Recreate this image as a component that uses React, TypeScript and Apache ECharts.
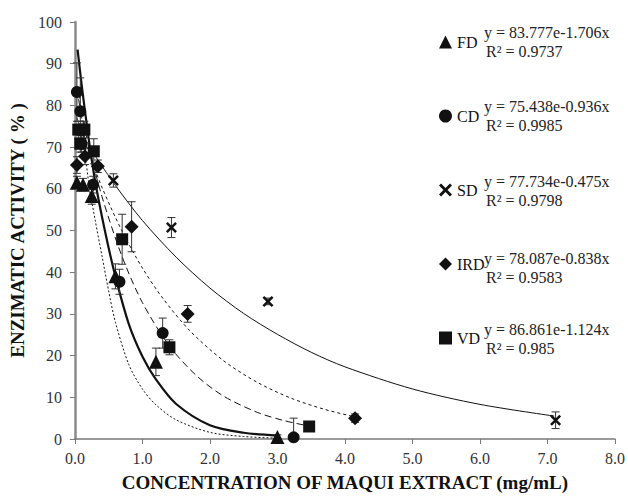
import React, { useEffect, useRef } from "react";
import * as echarts from "echarts";

// ---- measured data (x in mg/mL, y in % activity) ----
const fdPts = [[0.03, 61.5], [0.12, 61], [0.25, 58.3], [0.6, 39], [1.2, 18.5], [3.0, 0.5]];
const fdErr = [1.5, 1.5, 2, 3, 3.3, 0.5];
const cdPts = [[0.03, 83.2], [0.08, 78.6], [0.1, 70.8], [0.27, 61], [0.66, 37.7], [1.3, 25.4], [3.24, 0.4]];
const cdErr = [7, 8, 2, 2, 3, 3.6, 4.6];
const sdPts = [[0.57, 62], [1.43, 50.7], [2.86, 33], [7.12, 4.5]];
const sdErr = [1.6, 2.4, 0.8, 2];
const irdPts = [[0.03, 65.7], [0.15, 67.8], [0.34, 65.4], [0.84, 50.9], [1.67, 30], [4.15, 5]];
const irdErr = [2, 2, 1.5, 6, 2, 1];
const vdPts = [[0.05, 74.2], [0.14, 74.2], [0.08, 70.8], [0.28, 69], [0.7, 47.9], [1.4, 22], [3.47, 3]];
const vdErr = [2, 2, 2, 3, 6, 1.8, 0.8];

// ---- trend curves ----
const thickCurve = [[0.04, 93.4], [0.1, 84.9], [0.2, 72.5], [0.3, 61.8], [0.45, 49.5], [0.6, 39], [0.8, 27.5], [1.0, 19.8], [1.2, 14.3], [1.5, 8.4], [2.0, 3.3], [2.5, 1.5], [3.0, 0.8]];
const dottedCurve = [[0.06, 84], [0.1, 77], [0.2, 62], [0.3, 52.5], [0.4, 44], [0.5, 35.5], [0.6, 28], [0.8, 17.8], [1.0, 12], [1.2, 8.2], [1.5, 4.6], [2.0, 1.6], [2.5, 0.6], [3.0, 0.2]];
const longDashCurve = [[0.05, 81.6], [0.2, 70.6], [0.4, 58.2], [0.7, 43.7], [1.0, 32.7], [1.4, 22.3], [1.8, 15.2], [2.2, 10.3], [2.7, 6.4], [3.1, 4.4], [3.47, 3.1]];
const shortDashCurve = [[0.03, 77], [0.2, 69], [0.4, 60.4], [0.7, 49.8], [1.0, 41], [1.3, 33.8], [1.7, 26], [2.2, 18.8], [2.7, 13.6], [3.2, 9.8], [3.7, 7.1], [4.15, 5.3]];
const thinCurve = [[0.3, 67.9], [0.6, 60.8], [1.0, 52.4], [1.5, 43.6], [2.0, 36.2], [2.5, 30.1], [3.0, 25.1], [3.5, 20.8], [4.0, 17.3], [5.0, 12.0], [6.0, 8.3], [7.1, 5.5]];

const equations = ["y = 83.777e-1.706x", "y = 75.438e-0.936x", "y = 77.734e-0.475x", "y = 78.087e-0.838x", "y = 86.861e-1.124x"];
const r2Texts = ["R² = 0.9737", "R² = 0.9985", "R² = 0.9798", "R² = 0.9583", "R² = 0.985"];
const xTicks = [0, 1, 2, 3, 4, 5, 6, 7, 8];

const X_PATH = "path://M0,1.6 L1.6,0 L5,3.4 L8.4,0 L10,1.6 L6.6,5 L10,8.4 L8.4,10 L5,6.6 L1.6,10 L0,8.4 L3.4,5 Z";
const FONT = "Liberation Serif";

export default function App() {
  const ref = useRef<HTMLDivElement>(null);
  useEffect(() => {
    if (!ref.current) return;
    const chart = echarts.init(ref.current, undefined, { renderer: "svg" });

    const errData = (pts: number[][], errs: number[]) => pts.map((p, i) => [p[0], p[1], errs[i]]);
    const allErr = [
      ...errData(fdPts, fdErr),
      ...errData(cdPts, cdErr),
      ...errData(sdPts, sdErr),
      ...errData(irdPts, irdErr),
      ...errData(vdPts, vdErr),
    ];

    const curve = (data: number[][], width: number, type: any) => ({
      type: "line",
      data,
      smooth: 0.3,
      showSymbol: false,
      silent: true,
      z: 3,
      lineStyle: { color: "#111", width, type },
    });

    const scatter = (name: string, data: number[][], symbol: string, size: number) => ({
      type: "scatter",
      name,
      data,
      symbol,
      symbolSize: size,
      z: 5,
      itemStyle: { color: "#111", opacity: 1 },
    });

    const textEls: any[] = [];
    const rowY = [33, 107, 182, 259, 330];
    rowY.forEach((y, i) => {
      textEls.push({
        type: "text",
        left: 484,
        top: y - 9,
        style: { text: equations[i], fontFamily: FONT, fontSize: 16, fill: "#222" },
      });
      textEls.push({
        type: "text",
        left: 486,
        top: y + 10,
        style: { text: r2Texts[i], fontFamily: FONT, fontSize: 16, fill: "#222" },
      });
    });

    chart.setOption({
      animation: false,
      backgroundColor: "#fff",
      textStyle: { fontFamily: FONT },
      grid: { left: 66.5, right: 11.5, top: 22, bottom: 56, containLabel: false },
      legend: {
        orient: "vertical",
        left: 434,
        top: 29,
        itemWidth: 13,
        itemHeight: 13,
        itemGap: 58,
        textStyle: { fontFamily: FONT, fontSize: 16, color: "#111" },
        data: [
          { name: "FD", icon: "triangle" },
          { name: "CD", icon: "circle" },
          { name: "SD", icon: X_PATH },
          { name: "IRD", icon: "diamond" },
          { name: "VD", icon: "rect" },
        ],
        selectedMode: false,
      },
      xAxis: {
        type: "value",
        min: 0,
        max: 8,
        interval: 1,
        name: "CONCENTRATION OF MAQUI EXTRACT (mg/mL)",
        nameLocation: "middle",
        nameGap: 34,
        nameTextStyle: { fontFamily: FONT, fontWeight: "bold", fontSize: 19, color: "#111" },
        axisLine: { lineStyle: { color: "#7a7a7a", width: 1.5 } },
        axisTick: { show: true, length: 5, inside: false, lineStyle: { color: "#7a7a7a" } },
        axisLabel: {
          margin: 11,
          fontFamily: FONT,
          fontSize: 16,
          color: "#333",
          formatter: (v: number) => (xTicks.includes(v) ? v.toFixed(1) : ""),
        },
        splitLine: { show: false },
      },
      yAxis: {
        type: "value",
        min: 0,
        max: 100,
        interval: 10,
        name: "ENZIMATIC ACTIVITY ( % )",
        nameLocation: "middle",
        nameGap: 41,
        nameRotate: 90,
        nameTextStyle: { fontFamily: FONT, fontWeight: "bold", fontSize: 19, color: "#111" },
        axisLine: { show: true, lineStyle: { color: "#8a8a8a", width: 2.5 } },
        axisTick: { show: true, length: 5, inside: false, lineStyle: { color: "#7a7a7a" } },
        axisLabel: { margin: 13, fontFamily: FONT, fontSize: 16, color: "#333" },
        splitLine: { show: false },
      },
      graphic: textEls,
      series: [
        curve(thickCurve, 2.2, "solid"),
        curve(dottedCurve, 1, [2, 2]),
        curve(longDashCurve, 1, [7, 4]),
        curve(shortDashCurve, 1, [3, 3]),
        curve(thinCurve, 1, "solid"),
        {
          type: "custom",
          silent: true,
          z: 4,
          data: allErr,
          renderItem: (params: any, api: any) => {
            const x = api.value(0);
            const y = api.value(1);
            const e = api.value(2);
            const top = api.coord([x, y + e]);
            const bot = api.coord([x, Math.max(0, y - e)]);
            const w = 4;
            const st = { stroke: "#333", lineWidth: 1 };
            return {
              type: "group",
              children: [
                { type: "line", shape: { x1: top[0], y1: top[1], x2: bot[0], y2: bot[1] }, style: st },
                { type: "line", shape: { x1: top[0] - w, y1: top[1], x2: top[0] + w, y2: top[1] }, style: st },
                { type: "line", shape: { x1: bot[0] - w, y1: bot[1], x2: bot[0] + w, y2: bot[1] }, style: st },
              ],
            };
          },
        },
        scatter("FD", fdPts, "triangle", 14),
        scatter("CD", cdPts, "circle", 12),
        scatter("SD", sdPts, X_PATH, 11),
        scatter("IRD", irdPts, "diamond", 14),
        scatter("VD", vdPts, "rect", 12),
      ],
    });
    return () => chart.dispose();
  }, []);
  return <div ref={ref} style={{ width: 628, height: 497, position: "absolute", left: 0, top: 0 }} />;
}
